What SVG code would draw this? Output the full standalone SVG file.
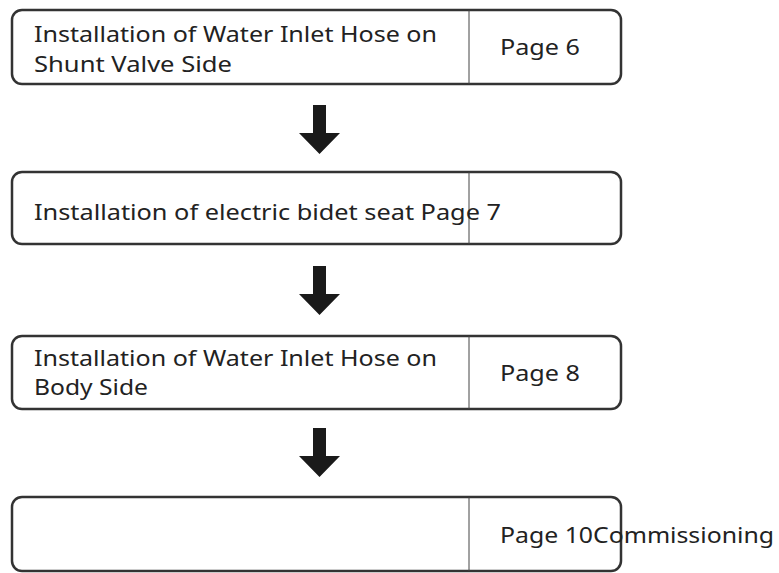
<svg xmlns="http://www.w3.org/2000/svg" width="779" height="573" viewBox="0 0 779 573">
<style>
.box{fill:#fff;stroke:#333;stroke-width:2.5}
.div{stroke:#444;stroke-width:1}
text{font-family:"Noto Sans","DejaVu Sans",sans-serif;font-size:21px;fill:#222}
.arr{fill:#1a1a1a}
</style>
<rect width="779" height="573" fill="#fff"/>
<g id="n1"><rect class="box" x="12" y="10" width="609" height="74" rx="10"/><line class="div" x1="469" y1="10" x2="469" y2="84"/>
<text x="34" y="42" textLength="403" lengthAdjust="spacingAndGlyphs">Installation of Water Inlet Hose on</text>
<text x="34" y="72" textLength="198" lengthAdjust="spacingAndGlyphs">Shunt Valve Side</text>
<text x="500" y="55" textLength="80" lengthAdjust="spacingAndGlyphs">Page 6</text></g>
<g id="n2"><rect class="box" x="12" y="172" width="609" height="72" rx="10"/><line class="div" x1="469" y1="172" x2="469" y2="244"/>
<text x="34" y="220" textLength="467" lengthAdjust="spacingAndGlyphs">Installation of electric bidet seat  Page 7</text></g>
<g id="n3"><rect class="box" x="12" y="336" width="609" height="73" rx="10"/><line class="div" x1="469" y1="336" x2="469" y2="409"/>
<text x="34" y="366" textLength="403" lengthAdjust="spacingAndGlyphs">Installation of Water Inlet Hose on</text>
<text x="34" y="395" textLength="114" lengthAdjust="spacingAndGlyphs">Body Side</text>
<text x="500" y="381" textLength="80" lengthAdjust="spacingAndGlyphs">Page 8</text></g>
<g id="n4"><rect class="box" x="12" y="497" width="609" height="74" rx="10"/><line class="div" x1="469" y1="497" x2="469" y2="571"/>
<text x="500" y="543" textLength="274" lengthAdjust="spacingAndGlyphs">Page 10Commissioning</text></g>
<g id="connectors">
<polygon class="arr" points="313,105 326,105 326,133 340,133 319.5,154 299,133 313,133"/>
<polygon class="arr" points="313,266 326,266 326,294 340,294 319.5,315 299,294 313,294"/>
<polygon class="arr" points="313,428 326,428 326,456 340,456 319.5,477 299,456 313,456"/>
</g>
</svg>
